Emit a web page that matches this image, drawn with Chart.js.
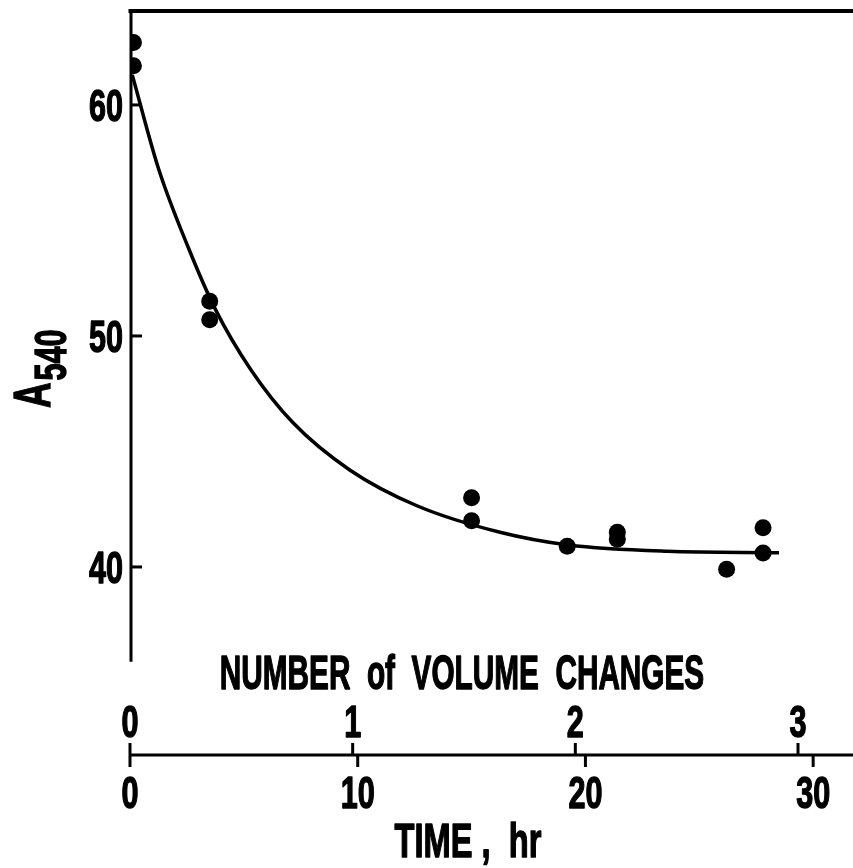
<!DOCTYPE html>
<html>
<head>
<meta charset="utf-8">
<script src="https://cdn.jsdelivr.net/npm/chart.js@4.4.1/dist/chart.umd.min.js"></script>
<style>
  html, body { margin: 0; padding: 0; background: #fff; }
  canvas { display: block; }
</style>
</head>
<body>
<canvas id="decayChart" width="853" height="868"></canvas>
<script>
// measured samples: time (hr) and A540
const sampleHours = [0.15, 0.15, 3.5, 3.5, 15.0, 15.0, 19.2, 21.4, 21.4, 26.2, 27.8, 27.8];
const sampleA540 = [62.7, 61.7, 51.5, 50.7, 43.0, 42.0, 40.9, 41.5, 41.2, 39.9, 41.7, 40.6];

// smooth fitted curve, traced point by point
const fitHours = [0.1, 1.25, 2.55, 3.75, 5.3, 7.15, 9.65, 12.6, 16.25, 19.25, 23.6, 28.5];
const fitA540 = [61.3, 57.25, 53.85, 51.15, 48.55, 46.25, 44.2, 42.65, 41.5, 40.95, 40.68, 40.62];

// axis ticks
const absTicks = [40, 50, 60];
const timeTicks = [0, 10, 20, 30];
const volumeTicks = [0, 1, 2, 3];

const SQUEEZE = 0.68;
const INK = '#000';

function squeezeText(ctx, text, x, cy, align, size, squeeze) {
  const sq = squeeze || SQUEEZE;
  ctx.save();
  ctx.font = 'bold ' + size + 'px "Liberation Sans", Arial, sans-serif';
  ctx.textAlign = 'left';
  ctx.textBaseline = 'alphabetic';
  const w = ctx.measureText(text).width * sq;
  let left = x;
  if (align === 'center') left = x - w / 2;
  if (align === 'right') left = x - w;
  ctx.translate(left, cy + size * 0.716 / 2);
  ctx.scale(sq, 1);
  ctx.fillStyle = INK;
  ctx.strokeStyle = INK;
  ctx.lineWidth = 1.4;
  ctx.lineJoin = 'round';
  ctx.fillText(text, 0, 0);
  ctx.strokeText(text, 0, 0);
  ctx.restore();
}

// draws the frame, both bottom axes and all text from the hidden scales
const axesPlugin = {
  id: 'paperAxes',
  afterDatasetsDraw(chart) {
    const ctx = chart.ctx;
    const area = chart.chartArea;
    const x = chart.scales.x;
    const vol = chart.scales.vol;
    const y = chart.scales.y;
    const axisY = area.bottom;
    const yEnd = y.getPixelForValue(35.9);

    ctx.save();
    ctx.strokeStyle = INK;
    ctx.lineCap = 'butt';

    // top frame line
    ctx.lineWidth = 4;
    ctx.beginPath();
    ctx.moveTo(area.left - 1.5, area.top + 1);
    ctx.lineTo(chart.width, area.top + 1);
    ctx.stroke();

    // left axis
    ctx.lineWidth = 3;
    ctx.beginPath();
    ctx.moveTo(area.left + 1, area.top - 1);
    ctx.lineTo(area.left + 1, yEnd);
    ctx.stroke();

    absTicks.forEach(v => {
      const py = y.getPixelForValue(v);
      ctx.beginPath();
      ctx.moveTo(area.left, py);
      ctx.lineTo(area.left + 12, py);
      ctx.stroke();
      squeezeText(ctx, String(v), area.left - 7, py, 'right', 45);
    });

    // shared bottom axis: volume changes above, time below
    ctx.beginPath();
    ctx.moveTo(area.left, axisY);
    ctx.lineTo(chart.width, axisY);
    ctx.stroke();

    volumeTicks.forEach(v => {
      const px = vol.getPixelForValue(v);
      ctx.beginPath();
      ctx.moveTo(px, axisY);
      ctx.lineTo(px, axisY - 12);
      ctx.stroke();
      squeezeText(ctx, String(v), px, axisY - 34, 'center', 45);
    });

    timeTicks.forEach(v => {
      const px = x.getPixelForValue(v);
      ctx.beginPath();
      ctx.moveTo(px, axisY);
      ctx.lineTo(px, axisY + 12);
      ctx.stroke();
      squeezeText(ctx, String(v), px, axisY + 37, 'center', 45);
    });

    squeezeText(ctx, 'NUMBER  of  VOLUME  CHANGES', 462, axisY - 83, 'center', 48, 0.62);
    squeezeText(ctx, 'TIME ,  hr', 468, axisY + 85, 'center', 48);

    // rotated A540 label with subscript
    ctx.translate(50, 408);
    ctx.rotate(-Math.PI / 2);
    ctx.scale(SQUEEZE, 1);
    ctx.fillStyle = INK;
    ctx.lineWidth = 1.4;
    ctx.textAlign = 'left';
    ctx.textBaseline = 'alphabetic';
    ctx.font = 'bold 52px "Liberation Sans", Arial, sans-serif';
    ctx.fillText('A', 0, 0);
    ctx.strokeText('A', 0, 0);
    const aw = ctx.measureText('A').width;
    ctx.font = 'bold 45px "Liberation Sans", Arial, sans-serif';
    ctx.fillText('540', aw + 3, 16);
    ctx.strokeText('540', aw + 3, 16);

    ctx.restore();
  }
};

new Chart(document.getElementById('decayChart'), {
  type: 'scatter',
  data: {
    datasets: [
      {
        label: 'fit',
        data: fitHours.map((h, i) => ({ x: h, y: fitA540[i] })),
        showLine: true,
        borderColor: INK,
        borderWidth: 3.5,
        pointRadius: 0,
        cubicInterpolationMode: 'monotone',
        fill: false
      },
      {
        label: 'A540',
        data: sampleHours.map((h, i) => ({ x: h, y: sampleA540[i] })),
        backgroundColor: INK,
        borderColor: INK,
        pointRadius: 8.5,
        pointBorderWidth: 0,
        clip: 0
      }
    ]
  },
  options: {
    responsive: false,
    animation: false,
    layout: { autoPadding: false, padding: { left: 130, top: 10, right: 0, bottom: 113 } },
    scales: {
      x: { type: 'linear', min: 0, max: 31.75, display: false },
      vol: { type: 'linear', axis: 'x', position: 'bottom', min: 0, max: 3.247, display: false },
      y: { type: 'linear', min: 31.86, max: 64.11, display: false }
    },
    plugins: {
      legend: { display: false },
      tooltip: { enabled: false }
    }
  },
  plugins: [axesPlugin]
});
</script>
</body>
</html>
